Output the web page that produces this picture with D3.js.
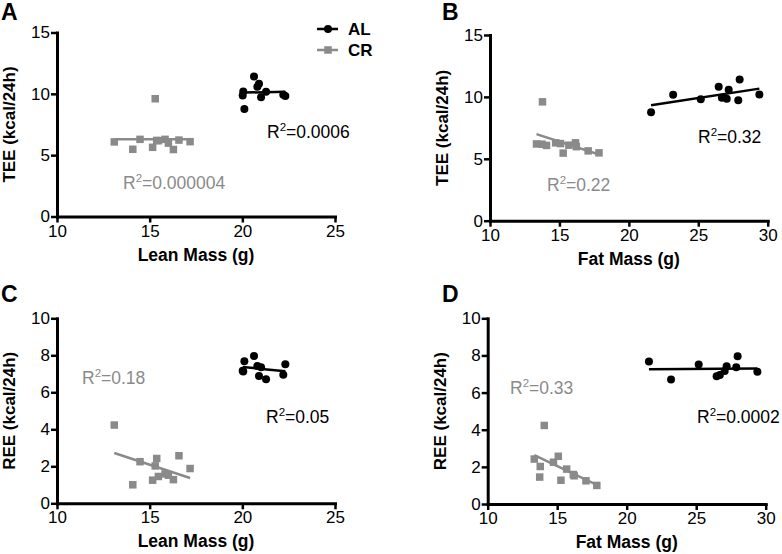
<!DOCTYPE html>
<html><head><meta charset="utf-8">
<script src="https://cdn.jsdelivr.net/npm/d3@7"></script>
<style>body{margin:0;background:#fff} svg{display:block}</style>
</head><body>
<svg id="c" width="782" height="554"></svg>
<script>
// ---- data (one entry per mouse) ----
const groups = ["AL", "CR"];
const alLean = [20.63, 20.90, 20.81, 20.11, 21.28, 22.32, 21.01, 20.05, 22.21, 20.02];
const alFat  = [27.98, 26.47, 27.19, 21.60, 23.19, 25.18, 27.88, 29.40, 26.70, 27.05];
const alTEE  = [11.41, 10.82, 10.57, 8.76, 10.18, 9.82, 9.72, 10.19, 9.93, 9.86];
const alREE  = [7.96, 6.88, 7.42, 7.68, 6.71, 7.51, 7.36, 7.12, 6.95, 7.16];
const crLean = [13.09, 14.09, 16.58, 15.38, 14.48, 15.30, 17.18, 15.83, 16.01, 15.47, 15.16, 16.28];
const crFat  = [14.07, 17.85, 15.08, 13.35, 14.73, 13.78, 15.68, 16.16, 16.22, 13.74, 17.07, 15.27];
const crTEE  = [6.08, 5.48, 6.23, 6.20, 6.29, 9.60, 6.10, 6.29, 5.98, 6.18, 5.64, 5.46];
const crREE  = [4.23, 1.00, 2.57, 2.42, 2.25, 2.02, 1.88, 1.59, 1.52, 1.45, 1.25, 1.28];
const leanTicks = [10, 15, 20, 25];
const fatTicks  = [10, 15, 20, 25, 30];
const teeTicks  = [0, 5, 10, 15];
const reeTicks  = [0, 2, 4, 6, 8, 10];
const r2A = ["0.0006", "0.000004"];
const r2B = ["0.32", "0.22"];
const r2C = ["0.05", "0.18"];
const r2D = ["0.0002", "0.33"];

const BLACK = "#000", GRAY = "#8a8a8a";
const FONT = "Arial, 'Liberation Sans', Helvetica, sans-serif";
const svg = d3.select("#c");

function fit(xs, ys) {
  const n = xs.length, mx = d3.mean(xs), my = d3.mean(ys);
  let sxy = 0, sxx = 0;
  for (let i = 0; i < n; i++) { sxy += (xs[i]-mx)*(ys[i]-my); sxx += (xs[i]-mx)*(xs[i]-mx); }
  const b = sxy / sxx, a = my - b*mx;
  const x0 = d3.min(xs), x1 = d3.max(xs);
  return [[x0, a+b*x0], [x1, a+b*x1]];
}

function panel(p) {
  const g = svg.append("g");
  const x = d3.scaleLinear().domain(p.xDom).range([p.left, p.right]);
  const y = d3.scaleLinear().domain(p.yDom).range([p.bottom, p.top]);

  // letter
  g.append("text").attr("x", p.letter[1]).attr("y", p.letter[2])
    .attr("font-family", FONT).attr("font-weight", "bold").attr("font-size", 23)
    .text(p.letter[0]);

  const xa = g.append("g").attr("transform", `translate(0,${p.bottom})`)
    .call(d3.axisBottom(x).tickValues(p.xTicks).tickSize(6).tickSizeOuter(0).tickPadding(2));
  const ya = g.append("g").attr("transform", `translate(${p.left},0)`)
    .call(d3.axisLeft(y).tickValues(p.yTicks).tickSize(6).tickSizeOuter(0).tickPadding(1));
  [xa, ya].forEach(a => {
    a.selectAll("path").attr("stroke", "#000").attr("stroke-width", 3).attr("stroke-linecap", "square");
    a.selectAll("line").attr("stroke", "#000").attr("stroke-width", 2.5);
    a.selectAll("text").attr("font-family", FONT).attr("font-size", 17).attr("fill", "#000");
  });

  // axis titles
  g.append("text").attr("x", (p.left+p.right)/2).attr("y", p.bottom + 44)
    .attr("text-anchor", "middle").attr("font-family", FONT).attr("font-weight", "bold")
    .attr("font-size", 17.5).text(p.xTitle);
  g.append("text").attr("transform", `translate(${p.yTitleX},${(p.top+p.bottom)/2}) rotate(-90)`)
    .attr("text-anchor", "middle").attr("font-family", FONT).attr("font-weight", "bold")
    .attr("font-size", 17).text(p.yTitle);

  // regression lines
  const line = d3.line().x(d => x(d[0])).y(d => y(d[1]));
  g.append("path").attr("d", line(fit(p.crX, p.crY))).attr("stroke", GRAY)
    .attr("stroke-width", 2.5).attr("fill", "none");
  g.append("path").attr("d", line(fit(p.alX, p.alY))).attr("stroke", BLACK)
    .attr("stroke-width", 2.5).attr("fill", "none");

  // points
  const s = 7.5;
  g.selectAll(".cr").data(p.crX.map((v, i) => [v, p.crY[i]])).join("rect")
    .attr("x", d => x(d[0]) - s/2).attr("y", d => y(d[1]) - s/2)
    .attr("width", s).attr("height", s).attr("fill", GRAY);
  g.selectAll(".al").data(p.alX.map((v, i) => [v, p.alY[i]])).join("circle")
    .attr("cx", d => x(d[0])).attr("cy", d => y(d[1])).attr("r", 4).attr("fill", BLACK);

  // R^2 labels
  const r2 = (t, pos, col) => {
    const tx = g.append("text").attr("x", pos[0]).attr("y", pos[1])
      .attr("font-family", FONT).attr("font-size", 17.5).attr("fill", col);
    tx.append("tspan").text("R");
    tx.append("tspan").attr("font-size", 11.5).attr("dy", -7).text("2");
    tx.append("tspan").attr("dy", 7).text("=" + t);
  };
  r2(p.r2[0], p.alR2, BLACK);
  r2(p.r2[1], p.crR2, GRAY);
}

panel({letter: ["A", 1, 20], left: 57, right: 335, top: 32.5, bottom: 216.5,
  xDom: [10, 25], yDom: [0, 15], xTicks: leanTicks, yTicks: teeTicks,
  xTitle: "Lean Mass (g)", yTitle: "TEE (kcal/24h)", yTitleX: 15,
  alX: alLean, alY: alTEE, crX: crLean, crY: crTEE, r2: r2A,
  alR2: [267, 138], crR2: [123, 189]});
panel({letter: ["B", 442, 20], left: 490, right: 767.7, top: 35, bottom: 220.7,
  xDom: [10, 30], yDom: [0, 15], xTicks: fatTicks, yTicks: teeTicks,
  xTitle: "Fat Mass (g)", yTitle: "TEE (kcal/24h)", yTitleX: 448,
  alX: alFat, alY: alTEE, crX: crFat, crY: crTEE, r2: r2B,
  alR2: [698, 143], crR2: [547, 191]});
panel({letter: ["C", 1, 302], left: 57, right: 335, top: 318.3, bottom: 503.3,
  xDom: [10, 25], yDom: [0, 10], xTicks: leanTicks, yTicks: reeTicks,
  xTitle: "Lean Mass (g)", yTitle: "REE (kcal/24h)", yTitleX: 15,
  alX: alLean, alY: alREE, crX: crLean, crY: crREE, r2: r2C,
  alR2: [266, 423], crR2: [82, 384]});
panel({letter: ["D", 442, 302], left: 487.7, right: 765.7, top: 318.3, bottom: 504,
  xDom: [10, 30], yDom: [0, 10], xTicks: fatTicks, yTicks: reeTicks,
  xTitle: "Fat Mass (g)", yTitle: "REE (kcal/24h)", yTitleX: 446,
  alX: alFat, alY: alREE, crX: crFat, crY: crREE, r2: r2D,
  alR2: [697, 423], crR2: [510, 394]});

// legend
const leg = svg.append("g");
groups.forEach((name, i) => {
  const cy = 29 + i * 21, col = i === 0 ? BLACK : GRAY;
  leg.append("line").attr("x1", 317).attr("x2", 338).attr("y1", cy).attr("y2", cy)
    .attr("stroke", col).attr("stroke-width", 2.5);
  if (i === 0) leg.append("circle").attr("cx", 328).attr("cy", cy).attr("r", 4).attr("fill", col);
  else leg.append("rect").attr("x", 324.25).attr("y", cy - 3.75).attr("width", 7.5).attr("height", 7.5).attr("fill", col);
  leg.append("text").attr("x", 348).attr("y", cy + 6).attr("font-family", FONT)
    .attr("font-weight", "bold").attr("font-size", 17).attr("fill", "#000").text(name);
});
</script>
</body></html>
